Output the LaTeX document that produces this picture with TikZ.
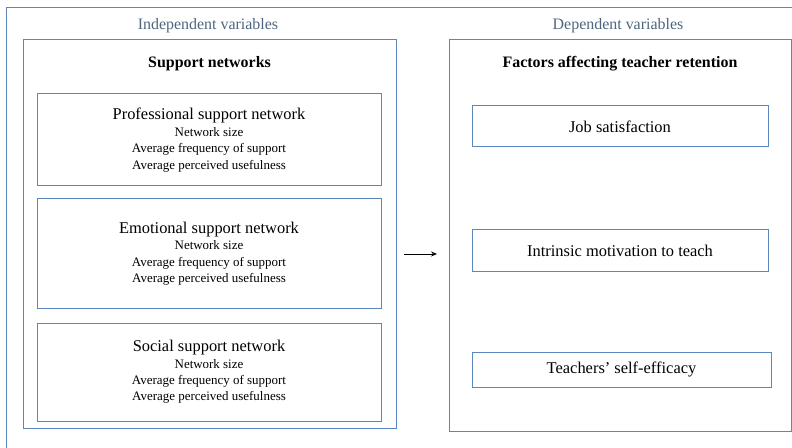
\documentclass[tikz,border=0pt]{standalone}
\usepackage{fontspec}
\setmainfont{Liberation Serif}
\usetikzlibrary{arrows.meta}
\definecolor{framecol}{HTML}{5B86BE}
\definecolor{titlecol}{HTML}{4D6680}
\newcommand{\netbox}[1]{{\fontsize{16.5}{18}\selectfont #1}\\Network size\\Average frequency of support\\Average perceived usefulness}
\begin{document}
\begin{tikzpicture}[x=1bp,y=-1bp,
    frame/.style={draw=framecol,line width=1pt,inner sep=0pt},
    netnode/.style={frame,minimum width=344bp,align=center,
      font=\fontsize{13}{16.5}\selectfont},
    factor/.style={frame,minimum width=296bp,minimum height=41bp,
      font=\fontsize{16.5}{18}\selectfont},
    vartitle/.style={anchor=base,text=titlecol,font=\fontsize{16}{18}\selectfont},
    boxtitle/.style={anchor=base,font=\fontsize{16}{18}\selectfont\bfseries}]
  \fill[white] (0,0) rectangle (792,448);
  \clip (0,0) rectangle (792,448);
  % outer frame runs off the page
  \draw[framecol,line width=1pt] (6,8) rectangle (800,460);

  \node (indep) [vartitle] at (208,30) {Independent variables};
  \node (dep) [vartitle] at (618,30) {Dependent variables};

  % independent side
  \node (supp) [frame,minimum width=373bp,minimum height=388bp] at (209.5,234) {};
  \node (supptitle) [boxtitle] at (209.5,68) {Support networks};
  \node (prof) [netnode,minimum height=92bp] at (209,140) {\netbox{Professional support network}};
  \node (emo) [netnode,minimum height=109bp] at (209,253.5) {\netbox{Emotional support network}};
  \node (soc) [netnode,minimum height=98bp] at (209,372) {\netbox{Social support network}};

  % dependent side
  \node (fact) [frame,minimum width=342bp,minimum height=391bp] at (620,235.5) {};
  \node (facttitle) [boxtitle] at (620,68) {Factors affecting teacher retention};
  \node (job) [factor] at (620,126.5) {Job satisfaction};
  \node (intr) [factor] at (620,250.5) {Intrinsic motivation to teach};
  \node (selfeff) [factor,minimum width=299bp,minimum height=35bp] at (621.5,369.5) {Teachers' self-efficacy};

  \coordinate (from) at (404,254);
  \coordinate (to) at (437,254);
  \draw[line width=0.8pt,-{Stealth[length=6bp,width=5bp]}] (from) -- (to);
\end{tikzpicture}
\end{document}
